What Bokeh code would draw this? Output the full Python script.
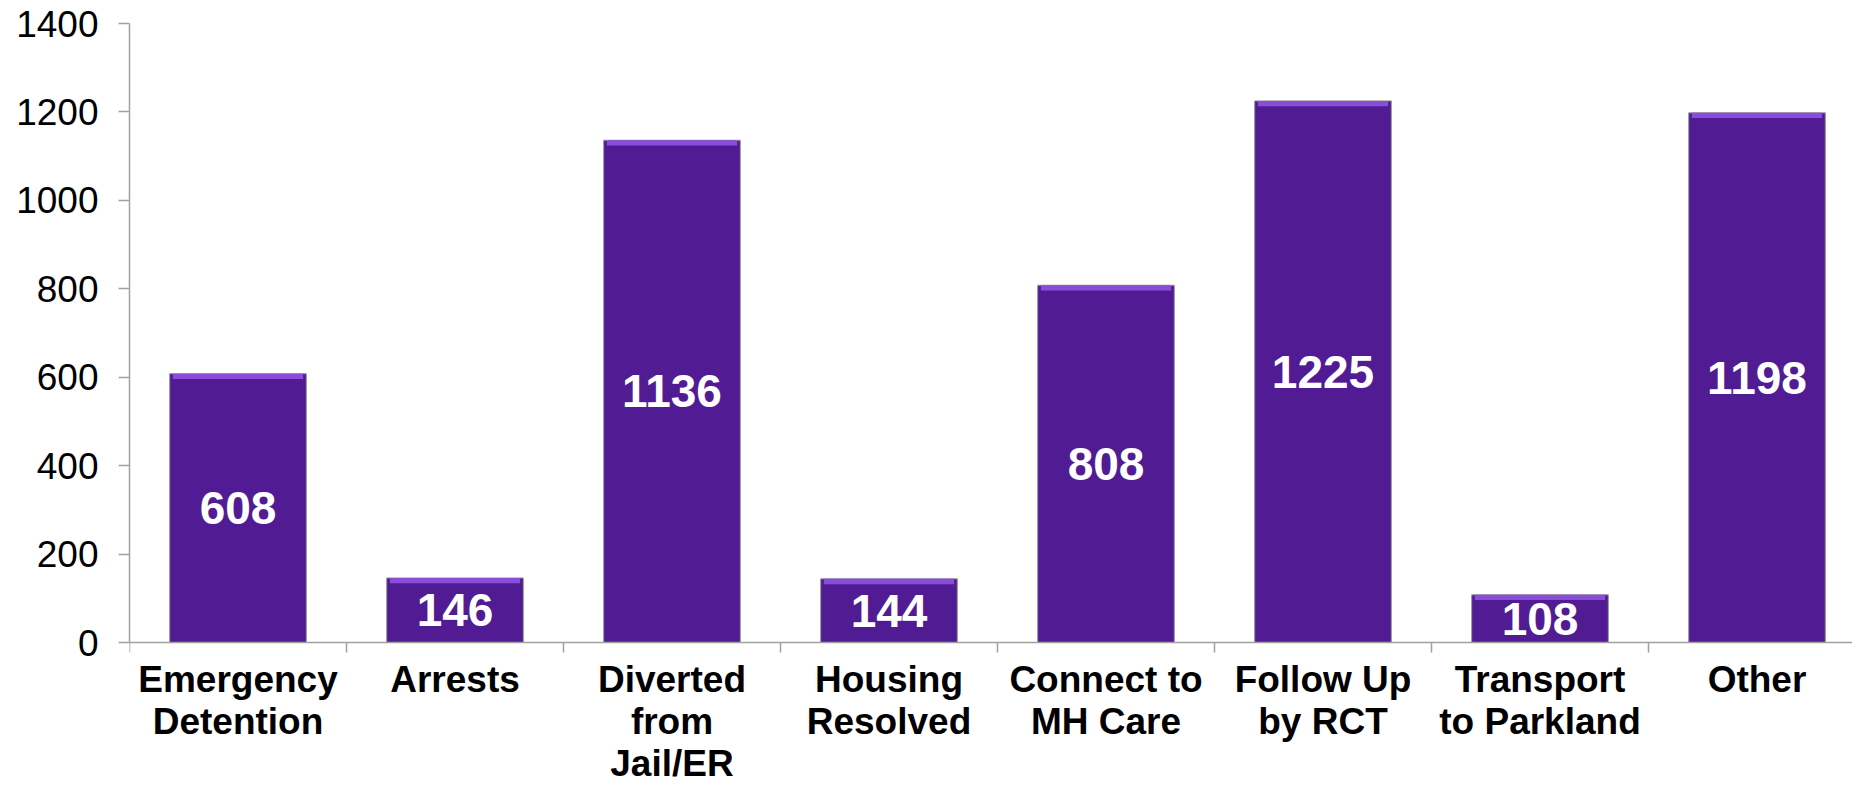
from bokeh.plotting import figure
from bokeh.models import Range1d, FixedTicker, ColumnDataSource, LinearAxis
from bokeh.core.properties import value
from bokeh.embed import file_html
from bokeh.resources import INLINE

categories = ["Emergency\nDetention", "Arrests", "Diverted\nfrom\nJail/ER", "Housing\nResolved",
              "Connect to\nMH Care", "Follow Up\nby RCT", "Transport\nto Parkland", "Other"]
counts = [608, 146, 1136, 144, 808, 1225, 108, 1198]
y_ticks = [0, 200, 400, 600, 800, 1000, 1200, 1400]

n = len(categories)
xs = [i + 0.5 for i in range(n)]

W, H = 1852, 788
left, top, zero_px = 129, 23, 642
px_per_unit = 217.0
x_end = (W - left) / px_per_unit
y_scale = (zero_px - top) / 1400.0          # px per data unit
y_min = -(H - zero_px) / y_scale             # frame runs to the canvas bottom

src = ColumnDataSource(dict(x=xs, top=counts, mid=[c / 2 for c in counts],
                            label=[str(c) for c in counts],
                            bevel_bottom=[c - 12 for c in counts]))

p = figure(width=W, height=H, output_backend="svg", toolbar_location=None,
           x_range=Range1d(0, x_end), y_range=Range1d(y_min, 1400),
           x_axis_location=None,
           min_border_left=left, min_border_right=0, min_border_top=top,
           min_border_bottom=0)
p.outline_line_color = None
p.xgrid.visible = False
p.ygrid.visible = False
p.background_fill_color = "white"

p.vbar(x="x", top="top", bottom=0, width=0.63, source=src,
       fill_color="#511C93", line_color="#9a9a9a", line_width=1)
p.vbar(x="x", top="top", bottom="bevel_bottom", width=0.60, source=src,
       fill_color="#8A4DDA", line_color=None)
p.text(x="x", y="mid", text="label", source=src, text_color="white",
       text_font=value("Liberation Sans"), text_font_style="bold", text_font_size="46px",
       text_align="center", text_baseline="middle")

ax = LinearAxis(fixed_location=0)
ax.ticker = FixedTicker(ticks=xs, minor_ticks=list(range(n + 1)))
ax.major_label_overrides = {x: c for x, c in zip(xs, categories)}
ax.major_tick_out = 0
ax.major_tick_in = 0
ax.minor_tick_out = 10
ax.minor_tick_in = 0
ax.minor_tick_line_color = "#a0a0a0"
ax.minor_tick_line_width = 1.5
ax.axis_line_color = "#a0a0a0"
ax.axis_line_width = 1.5
ax.major_label_text_font = "Liberation Sans"
ax.major_label_text_font_style = "bold"
ax.major_label_text_font_size = "37px"
ax.major_label_text_color = "black"
ax.major_label_text_line_height = 1.03
ax.major_label_standoff = 6
p.add_layout(ax, "below")

ay = p.yaxis[0]
ay.bounds = (0, 1400)
ay.ticker = FixedTicker(ticks=y_ticks)
ay.minor_tick_line_color = None
ay.major_tick_out = 11
ay.major_tick_in = 0
ay.major_tick_line_color = "#a0a0a0"
ay.major_tick_line_width = 1.5
ay.axis_line_color = "#a0a0a0"
ay.axis_line_width = 1.5
ay.major_label_text_font = "Liberation Sans"
ay.major_label_text_font_size = "37px"
ay.major_label_text_color = "black"
ay.major_label_standoff = 20

open("out.html", "w").write(file_html(p, INLINE))
